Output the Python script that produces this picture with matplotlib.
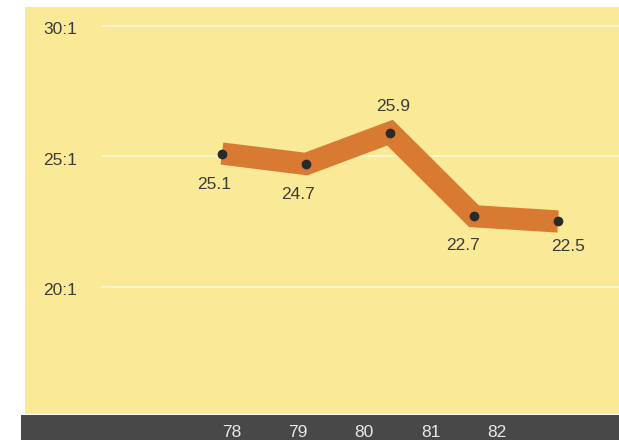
import matplotlib
matplotlib.use("Agg")
import matplotlib.pyplot as plt
import matplotlib.transforms as mtransforms

plt.rcParams['font.family'] = ['Liberation Sans', 'DejaVu Sans']

# ratio values (x:1) by year
years = [78, 79, 80, 81, 82]
ratios = [25.1, 24.7, 25.9, 22.7, 22.5]
point_labels = ['25.1', '24.7', '25.9', '22.7', '22.5']
ytick_vals = [30, 25, 20]
ytick_labels = ['30:1', '25:1', '20:1']
year_labels = ['78', '79', '80', '81', '82']

# label offsets in points (dx, dy)
offsets = [(-6, -22), (-6, -22), (2, 19), (-8, -21), (7, -18)]

BG = '#fae996'
BAND = '#d97a32'
DARK = '#484848'
TXT = '#3c3c3c'

W, H = 619, 440
fig = plt.figure(figsize=(W / 100, H / 100), dpi=100)
fig.patch.set_facecolor('white')

# main plotting panel
ax = fig.add_axes([25 / W, (H - 414) / H, (W - 25) / W, (414 - 7) / H])
ax.set_facecolor(BG)
ax.set_xlim(75.655, 82.726)
ax.set_ylim(15.13, 30.71)
for s in ax.spines.values():
    s.set_visible(False)
ax.set_xticks([])
ax.set_yticks([])

for v, lab in zip(ytick_vals, ytick_labels):
    ax.axhline(v, xmin=0.13, xmax=1, color='white', lw=1.2, alpha=0.6, zorder=1)
    trans = mtransforms.blended_transform_factory(ax.transAxes, ax.transData)
    ax.text(0.031, v - 0.15, lab, transform=trans, ha='left', va='center',
            fontsize=12.5, color=TXT)

ax.plot(years, ratios, color=BAND, lw=16, solid_capstyle='butt',
        solid_joinstyle='miter', zorder=2)
ax.plot(years, ratios, 'o', color='#2a2a2a', ms=6, zorder=3)

for x, y, lab, (dx, dy) in zip(years, ratios, point_labels, offsets):
    ax.annotate(lab, (x, y), xytext=(dx, dy), textcoords='offset points',
                ha='center', va='center', fontsize=12.5, color=TXT)

# dark year band at the bottom
bx = fig.add_axes([21 / W, 0, (W - 21) / W, (H - 415) / H])
bx.set_facecolor(DARK)
bx.set_xlim(74.83, 83.84)
bx.set_ylim(0, 1)
for s in bx.spines.values():
    s.set_visible(False)
bx.set_xticks([])
bx.set_yticks([])
for yr, lab in zip(years, year_labels):
    bx.text(yr, 0.3, lab, ha='center', va='center', fontsize=12.5, color='#e8e8e8')

fig.savefig('out.png', dpi=100)
